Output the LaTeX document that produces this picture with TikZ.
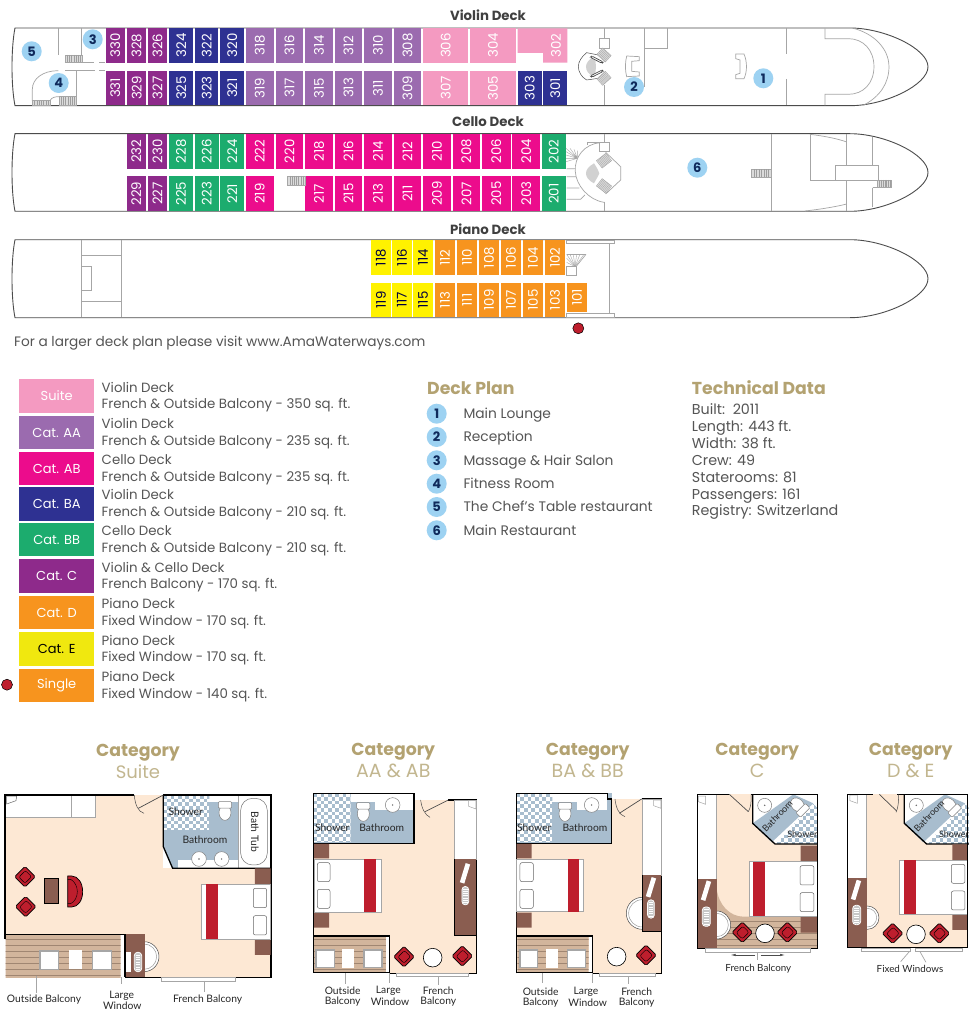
\documentclass[tikz,border=0pt]{standalone}
\usepackage{fontspec}
\usetikzlibrary{arrows.meta}
\setmainfont{Poppins}
\newfontfamily\labfont{Lato}
\definecolor{cC}{HTML}{8E2A8B}
\definecolor{cBA}{HTML}{2E3192}
\definecolor{cAA}{HTML}{9B6BAF}
\definecolor{cS}{HTML}{F49AC1}
\definecolor{cAB}{HTML}{EC0C8C}
\definecolor{cBB}{HTML}{1CAC6E}
\definecolor{cD}{HTML}{F7941E}
\definecolor{cE}{HTML}{FFF200}
\definecolor{cE2}{HTML}{F0E80F}
\definecolor{navy}{HTML}{0F2A5C}
\definecolor{bub}{HTML}{9DD2F2}
\definecolor{tan1}{HTML}{B3A271}
\definecolor{tan2}{HTML}{C2B68F}
\definecolor{txt}{HTML}{555555}
\definecolor{cream}{HTML}{FDE8D4}
\definecolor{bl}{HTML}{A8BDCE}
\definecolor{brn}{HTML}{8A5D50}
\definecolor{rd}{HTML}{BE1E2D}
\definecolor{wood}{HTML}{D2B59C}
\definecolor{woodl}{HTML}{A08672}
\definecolor{gln}{HTML}{A6A6A6}
\tikzset{
 hullline/.style={draw=black!70,line width=0.9pt},
 gl/.style={draw=gln,line width=0.7pt},
 wall/.style={draw=black,line width=1.3pt},
 cabtxt/.style={rotate=90,font=\fontsize{13.3}{13.3}\selectfont,inner sep=0pt},
 bubble/.style={circle,fill=bub,minimum size=20pt,inner sep=0pt,text=navy,font=\fontsize{13}{13}\selectfont\bfseries},
 bodytxt/.style={anchor=base west,text=txt,inner sep=0pt,font=\fontsize{13.35}{13.35}\selectfont},
 notetxt/.style={bodytxt,font=\fontsize{13.66}{13.66}\selectfont},
 plantxt/.style={bodytxt,font=\fontsize{13.8}{13.8}\selectfont},
 techtxt/.style={bodytxt,font=\fontsize{14.3}{14.3}\selectfont},
 head/.style={text=tan1,inner sep=0pt,font=\fontsize{17.3}{17.3}\selectfont\bfseries},
 subhead/.style={text=tan2,inner sep=0pt,font=\fontsize{19}{19}\selectfont},
 decktitle/.style={text=black!75,inner sep=0pt,font=\fontsize{13.3}{13.3}\selectfont\bfseries},
 lab/.style={text=black!85,inner sep=0pt,font=\labfont\fontsize{10.3}{10.3}\selectfont},
 labn/.style={text=black!85,inner sep=0pt,font=\labfont\fontsize{9.8}{9.8}\selectfont},
 labs/.style={text=black!85,inner sep=0pt,font=\labfont\fontsize{9}{9}\selectfont},
 zoomed/.style={x=0.3333pt,y=-0.3333pt},
}
\newcommand\hullshape[3]{% top, bottom, tip-mid
 \draw[hullline] (15,#1) .. controls (11,#1+20) and (11,#2-20) .. (15,#2) -- (850,#2)
   .. controls (885,#2) and (928,#3+18) .. (928,#3) .. controls (928,#3-18) and (885,#1) .. (850,#1) -- cycle;}
\newcommand\cabin[6]{% name x1 x2 y1 y2 col
 \fill[#6] (#2,#4) rectangle (#3,#5);
 \node[cabtxt,text=white] (c#1) at ({(#2+#3)/2},{(#4+#5)/2}) {#1};}
\newcommand\cabinY[6]{%
 \fill[#6] (#2,#4) rectangle (#3,#5);
 \node[cabtxt,text=black!75!blue] (c#1) at ({(#2+#3)/2},{(#4+#5)/2}) {#1};}
\newcommand\stairs[5]{% cx cy w h rot
 \begin{scope}[shift={(#1,#2)},rotate=#5]
  \draw[draw=black!35,fill=black!14,line width=0.4pt] ({-#3/2},{-#4/2}) rectangle ({#3/2},{#4/2});
  \foreach \k in {-3,-2,...,3} {\draw[draw=black!38,line width=0.25pt] ({\k*#3/8},{-#4/2}) -- ({\k*#3/8},{#4/2});}
 \end{scope}}
\newcommand\redchair[2]{%
 \begin{scope}[shift={(#1,#2)},rotate=45]
  \draw[fill=rd,line width=0.7pt,rounded corners=1.5pt] (-22,-22) rectangle (22,22);
  \draw[line width=0.4pt,rounded corners=2pt] (-14,-12) -- (-14,14) -- (14,14) -- (14,-12) -- cycle;
 \end{scope}}
\newcommand\woodfloor[1]{%
 \begin{scope}
  \clip #1;
  \fill[wood] (-10,150) rectangle (1200,800);
  \foreach \yy in {560,578,...,740} {\draw[woodl,line width=0.5pt] (-10,\yy) -- (1200,\yy);}
 \end{scope}}
\newcommand\checker[5]{% x1 y1 x2 y2 (clip path)
 \begin{scope}
  \clip #5;
  \fill[white] (#1,#2) rectangle (#3,#4);
  \foreach \i in {0,...,21} {\foreach \j in {0,...,17} {
    \pgfmathtruncatemacro\pp{mod(\i+\j,2)}
    \ifnum\pp=0 \fill[bl] ({#1+\i*11},{#2+\j*11}) rectangle ++(11,11);\fi}}
 \end{scope}}
\newcommand\bedH[6]{% x1 y1 x2 y2 redx1 redx2
 \draw[gl,fill=white] (#1,#2) rectangle (#3,#4);
 \fill[rd] (#5,#2) rectangle (#6,#4);}
\newcommand\pillow[4]{\draw[draw=black!60,line width=0.5pt,fill=white,rounded corners=2pt] (#1,#2) rectangle (#3,#4);}
\newcommand\hatchoval[4]{% cx cy w h
 \draw[draw=white,line width=0.8pt,fill=black!22,rounded corners=3.2pt] ({#1-#3/2},{#2-#4/2}) rectangle ({#1+#3/2},{#2+#4/2});
 \foreach \k in {-3,...,3} {\draw[white,line width=0.4pt] ({#1-#3/3},{#2+\k*#4/8}) -- ({#1+#3/3},{#2+\k*#4/8});}}
\newcommand\tilted[2]{%
 \begin{scope}[shift={(#1,#2)},rotate=-17]\fill[white] (-7,-30) rectangle (7,30);\end{scope}}
\newcommand\stool[3]{%
 \draw[draw=black!70,line width=0.5pt,fill=white] (#1,#2) circle ({#3});
 \draw[draw=black!40,line width=0.5pt] (#1,#2) circle ({#3-7});}
\newcommand\toilet[3]{% cx cy rot
 \begin{scope}[shift={(#1,#2)},rotate=#3]
  \draw[draw=black!50,line width=0.5pt,fill=white] (0,8) ellipse (18 and 23);
  \draw[draw=black!50,line width=0.5pt,fill=white,rounded corners=1pt] (-20,-25) rectangle (20,-6);
 \end{scope}}
\newcommand\sinkc[3]{\draw[draw=black!50,line width=0.5pt,fill=white] (#1,#2) circle (#3);\fill[black!60] (#1,#2) circle (2.5);}
\newcommand\closeticon[2]{\draw[gl,line width=0.5pt,fill=white] (#1,#2) -- ++(22,0) -- ++(0,25) -- ++(-22,-8) -- cycle;}
\newcommand\diagbath{%
 \path[fill=white] (218,178) -- (412,178) -- (412,327) -- (285,327) -- (218,265) -- cycle;
 \fill[bl] (218,265) -- (340,178) -- (400,205) -- (275,322) -- cycle;
 \checker{280}{178}{412}{330}{(285,327) -- (412,327) -- (412,218) -- (400,207) -- cycle}
 \sinkc{254}{211}{21}
 \toilet{358}{215}{-135}
 \node[labs,rotate=46] at (292,243) {Bathroom};
 \node[labs] at (367,298) {Shower};
 \draw[wall] (218,178) -- (218,265) -- (285,327) -- (412,327);}
\begin{document}
\begin{tikzpicture}[x=1pt,y=-1pt]
\useasboundingbox (0,0) rectangle (976,1024);
\fill[white] (0,0) rectangle (976,1024);
%%% Titles
\node[decktitle] (t1) at (488,15) {Violin Deck};
\node[decktitle] (t2) at (488,122) {Cello Deck};
\node[decktitle] (t3) at (488,229) {Piano Deck};
%%% Hulls
\hullshape{28}{105.7}{66.8}
\hullshape{133.7}{211.3}{172.5}
\hullshape{239.7}{317.7}{278.7}
%%% Violin cabins
\foreach \n/\a/\b/\c in {330/105.7/125/cC,328/127/146.3/cC,326/148/167/cC,324/169/193.3/cBA,322/195/218.3/cBA,320/220/244.3/cBA,318/245.7/274/cAA,316/275.7/303.3/cAA,314/305/333/cAA,312/334.7/362.3/cAA,310/364/392/cAA,308/393.7/421.3/cAA,306/423/468.3/cS,304/470/516/cS} {\cabin{\n}{\a}{\b}{28.4}{62.7}{\c}}
\foreach \n/\a/\b/\c in {331/105.7/125/cC,329/127/146.3/cC,327/148/167/cC,325/169/193.3/cBA,323/195/218.3/cBA,321/220/244.3/cBA,319/245.7/274/cAA,317/275.7/303.3/cAA,315/305/333/cAA,313/334.7/362.3/cAA,311/364/392/cAA,309/393.7/421.3/cAA,307/423/468.3/cS,305/470/516/cS,303/517.7/541.7/cBA,301/543/567.3/cBA} {\cabin{\n}{\a}{\b}{70.7}{105.3}{\c}}
\fill[cS] (517.7,28.4) -- (567.3,28.4) -- (567.3,62.7) -- (543,62.7) -- (543,53) -- (517.7,53) -- cycle;
\node[cabtxt,text=white] (c302) at (556,45.5) {302};
%%% Cello cabins
\foreach \n/\a/\b/\c in {232/126.7/146/cC,230/148/167/cC,228/168.7/193.3/cBB,226/195/218.7/cBB,224/220/244.3/cBB,222/245.7/274/cAB,220/275.7/303.3/cAB,218/305/333/cAB,216/334.7/362.3/cAB,214/364/392/cAB,212/393.7/421.3/cAB,210/423/451/cAB,208/452.7/480/cAB,206/481.7/510.7/cAB,204/512/540.3/cAB,202/541.7/565.7/cBB} {\cabin{\n}{\a}{\b}{134.1}{168.7}{\c}}
\foreach \n/\a/\b/\c in {229/126.7/146/cC,227/148/167/cC,225/168.7/193.3/cBB,223/195/218.7/cBB,221/220/244.3/cBB,219/245.7/274/cAB,217/305/333/cAB,215/334.7/362.3/cAB,213/364/392/cAB,211/393.7/421.3/cAB,209/423/451/cAB,207/452.7/480/cAB,205/481.7/510.7/cAB,203/512/540.3/cAB,201/541.7/565.7/cBB} {\cabin{\n}{\a}{\b}{176.3}{211}{\c}}
%%% Piano cabins
\foreach \n/\a/\b in {118/371/390.7,116/392/411.7,114/413/433.3} {\cabinY{\n}{\a}{\b}{240.1}{275}{cE}}
\foreach \n/\a/\b in {119/371/390.7,117/392/411.7,115/413/433.3} {\cabinY{\n}{\a}{\b}{282.7}{317.3}{cE}}
\foreach \n/\a/\b in {112/435/455,110/457/477,108/479/499,106/501/521,104/523/543,102/545/565} {\cabin{\n}{\a}{\b}{240.1}{275}{cD}}
\foreach \n/\a/\b in {113/435/455,111/457/477,109/479/499,107/501/521,105/523/543,103/545/565} {\cabin{\n}{\a}{\b}{282.7}{317.3}{cD}}
\cabin{101}{567}{587}{282.7}{312.3}{cD}
%%% Violin interior left
\begin{scope}[zoomed]
 \draw[gl] (174,85) -- (174,165);
 \draw[gl] (245,85) -- (245,165);
 \stairs{221}{176}{50}{23}{0}
 \draw[gl] (195,187) -- (282,187) (298,187) -- (316,187) (195,212) -- (285,212) (298,212) -- (316,212);
 \draw[gl] (175,212) .. controls (130,212) and (97,235) .. (97,268) -- (97,302);
 \stairs{124}{309}{54}{14}{0}
 \stairs{203}{303}{50}{26}{0}
 \draw[gl] (150,302) .. controls (155,292) and (165,290) .. (178,290);
 \draw[gl] (228,212) -- (228,290);
\end{scope}
%%% Violin interior right
\begin{scope}[shift={(490,0)},zoomed]
 \draw[gl] (342,85) -- (342,115) (342,255) -- (342,316);
 \draw[gl] (327,115) rectangle (358,145);
 \draw[gl] (462,85) -- (462,260) (462,145) -- (532,145) -- (532,85);
 \draw[gl] (410,168) -- (448,170) -- (448,182) -- (425,184) -- (425,214) -- (448,216) -- (448,228) -- (410,230) .. controls (405,210) and (405,190) .. (410,168);
 \draw[gl] (737,162) -- (762,162) .. controls (772,185) and (772,215) .. (762,236) -- (737,236) -- (737,224) -- (750,220) -- (750,180) -- (737,176) -- cycle;
 \draw[gl] (889,85) -- (889,162) (889,237) -- (889,316);
 \draw[gl] (1005,85) -- (1005,116) -- (1075,116) .. controls (1120,116) and (1152,150) .. (1152,200) .. controls (1152,250) and (1120,283) .. (1075,283) -- (1005,283) -- (1005,316);
 \draw[gl] (1090,85) .. controls (1150,100) and (1197,145) .. (1197,200) .. controls (1197,250) and (1170,290) .. (1120,316);
 \draw[draw=black!70,line width=0.5pt] (325,165) -- (290,158) .. controls (275,170) and (265,185) .. (265,200) .. controls (265,215) and (275,232) .. (290,240) -- (325,235);
 \fill[black!18] (312,168) .. controls (295,180) and (288,190) .. (288,200) .. controls (288,212) and (295,222) .. (312,232) .. controls (320,210) and (320,190) .. (312,168);
 \stairs{342}{165}{34}{26}{-42}
 \stairs{342}{235}{34}{26}{42}
 \draw[draw=black!70,line width=0.7pt,fill=white,rounded corners=1.5pt] (305,168) -- (340,186) -- (336,190) -- (301,172) -- cycle;
 \draw[draw=black!70,line width=0.7pt,fill=white,rounded corners=1.5pt] (305,232) -- (340,214) -- (336,210) -- (301,228) -- cycle;
\end{scope}
%%% Cello interior
\stairs{296.3}{180.5}{17.4}{9}{0}
\begin{scope}[shift={(490,120)},zoomed]
 \draw[gl] (342,43) -- (342,68) (342,245) -- (342,273);
 \draw[gl] (327,67) rectangle (358,95);
 \draw[gl] (327,68) -- (292,68) -- (292,75);
 \draw[gl] (330,68) .. controls (285,72) and (252,110) .. (256,155) .. controls (258,195) and (295,240) .. (342,247);
 \draw[gl,line width=0.4pt] (228,85) -- (262,115) (228,95) -- (262,115) (228,105) -- (262,115) (228,115) -- (262,115) (228,125) -- (262,115) (240,85) -- (262,115) (252,88) -- (262,115) (262,92) -- (262,115);
 \draw[gl] (230,146) -- (256,146) (230,170) -- (258,170) (230,204) -- (268,204) (230,238) -- (272,238) -- (285,225);
 \draw[gl] (347,97) -- (392,140) -- (392,180) -- (347,222);
 \stairs{342}{122}{36}{28}{38}
 \stairs{342}{198}{36}{28}{-38}
 \fill[black!18] (312,130) .. controls (295,140) and (288,150) .. (288,160) .. controls (288,170) and (295,182) .. (312,190) .. controls (320,175) and (325,168) .. (328,160) .. controls (325,150) and (320,142) .. (312,130);
 \stairs{814}{160}{58}{25}{0}
 \draw[gl] (843,43) -- (843,273);
 \draw[gl] (960,43) -- (960,181) -- (1165,181) -- (1165,136) -- (1037,136) -- (1037,181);
 \draw[gl] (960,43) .. controls (1000,48) and (1040,55) .. (1070,66);
 \draw[gl] (945,273) .. controls (990,268) and (1040,260) .. (1070,252);
 \draw[gl] (1070,43) -- (1070,136) (1070,181) -- (1070,273);
 \draw[gl] (1148,50) -- (1148,136) (1148,203) -- (1148,262) (1148,203) -- (1165,203);
 \stairs{1184}{191}{42}{23}{0}
\end{scope}
%%% Piano interior
\begin{scope}[shift={(0,225)},zoomed]
 \draw[gl] (244,46) -- (244,276) (364,46) -- (364,276);
 \draw[gl] (244,90) -- (364,90) (244,230) -- (364,230);
 \draw[gl] (244,124) rectangle (274,197);
\end{scope}
\begin{scope}[shift={(360,225)},zoomed]
 \draw[gl] (748,57) -- (748,265);
 \draw[gl] (618,46) rectangle (762,56);
 \draw[gl] (618,266) rectangle (762,277);
 \draw[gl] (620,125) rectangle (648,150);
 \draw[gl] (620,88) -- (678,88);
 \foreach \xx/\yy in {620/88,630/88,640/88,650/88,660/88,672/88,620/100,620/112} {\draw[gl,line width=0.4pt] (\xx,\yy) -- (645,125);}
 \draw[gl] (678,88) -- (648,125);
\end{scope}
\node[circle,fill=rd,draw=black,line width=0.5pt,minimum size=11pt,inner sep=0pt] (dot1) at (578.3,328.3) {};
%%% Bubbles on decks
\node[bubble] (b1) at (763.3,78.3) {1};
\node[bubble] (b2) at (634,87) {2};
\node[bubble] (b3) at (92.7,39.3) {3};
\node[bubble] (b4) at (58.7,83) {4};
\node[bubble] (b5) at (31.7,51.3) {5};
\node[bubble] (b6) at (697.3,167.7) {6};
\node[notetxt] (note) at (14,346.5) {For a larger deck plan please visit www.AmaWaterways.com};
%%% Legend
\foreach \i/\ya/\yb/\c/\tc/\s/\la/\lb in {
 1/379.3/412.7/cS/white/Suite/Violin Deck/French \& Outside Balcony - 350 sq. ft.,
 2/416/449/cAA/white/Cat. AA/Violin Deck/French \& Outside Balcony - 235 sq. ft.,
 3/452/485.3/cAB/white/Cat. AB/Cello Deck/French \& Outside Balcony - 235 sq. ft.,
 4/487/520.7/cBA/white/Cat. BA/Violin Deck/French \& Outside Balcony - 210 sq. ft.,
 5/523/556.3/cBB/white/Cat. BB/Cello Deck/French \& Outside Balcony - 210 sq. ft.,
 6/559.3/593/cC/white/Cat. C/Violin \& Cello Deck/French Balcony - 170 sq. ft.,
 7/596/629.3/cD/white/Cat. D/Piano Deck/Fixed Window - 170 sq. ft.,
 8/632.3/665.7/cE2/black/Cat. E/Piano Deck/Fixed Window - 170 sq. ft.,
 9/668.7/702/cD/white/Single/Piano Deck/Fixed Window - 140 sq. ft.}{
 \fill[\c] (19,\ya) rectangle (94.3,\yb);
 \node[text=\tc,inner sep=0pt,font=\fontsize{13}{13}\selectfont] (sw\i) at (56.7,{(\ya+\yb)/2}) {\s};
 \node[bodytxt] (la\i) at (101.5,{(\ya+\yb)/2-4}) {\la};
 \node[bodytxt] (lb\i) at (101.5,{(\ya+\yb)/2+12.7}) {\lb};
}
\node[circle,fill=rd,draw=black,line width=0.5pt,minimum size=11pt,inner sep=0pt] (dot2) at (7,684.7) {};
%%% Deck plan list
\node[head,anchor=west] (dp) at (427,388) {Deck Plan};
\foreach \i/\yy/\t in {1/413.7/Main Lounge,2/437/Reception,3/460.3/Massage \& Hair Salon,4/483.7/Fitness Room,5/507/The Chef's Table restaurant,6/530.3/Main Restaurant}{
 \node[bubble] (dpb\i) at (436.7,\yy) {\i};
 \node[plantxt] (dpt\i) at (463.3,\yy+4.8) {\t};
}
\node[head,anchor=west] (td) at (691.7,388) {Technical Data};
\foreach \i/\yy/\t in {1/410/Built:\ \ 2011,2/427/Length: 443 ft.,3/443.7/Width: 38 ft.,4/460.7/Crew: 49,5/477.3/Staterooms: 81,6/494.3/Passengers: 161,7/511/Registry: Switzerland}{
 \node[techtxt] (tdt\i) at (691.7,\yy+4.8) {\t};
}
%%% Category headings
\node[head] (h1) at (138,753) {Category};
\node[subhead,font=\fontsize{18}{18}\selectfont] (s1) at (138,771.7) {Suite};
\node[head] (h2) at (393.3,752) {Category};
\node[subhead] (s2) at (393.3,770.7) {AA \& AB};
\node[head] (h3) at (587.7,752) {Category};
\node[subhead] (s3) at (587.7,770.7) {BA \& BB};
\node[head] (h4) at (757.3,752) {Category};
\node[subhead] (s4) at (757.3,770.7) {C};
\node[head] (h5) at (910.7,752) {Category};
\node[subhead] (s5) at (910.7,770.7) {D \& E};
%%% SUITE
\begin{scope}[shift={(0,735)},zoomed]
 \fill[cream] (15,180) rectangle (813,727);
 \fill[white] (15,600) rectangle (375,730);
 \woodfloor{(17,600) rectangle (362,727)}
 \draw[gl,fill=white] (15,180) rectangle (287,248);
 \draw[gl] (214,180) -- (214,248);
 \draw[draw=black!60,line width=0.5pt] (20,183) -- (50,183) -- (48,197) -- (20,207) -- cycle;
 \fill[white] (490,180) rectangle (813,400);
 \fill[bl] (490,180) -- (715,180) -- (715,400) -- (518,400) -- (490,335) -- cycle;
 \fill[white] (628,180) rectangle (715,200);
 \checker{490}{180}{628}{285}{(490,180) rectangle (628,285)}
 \toilet{675}{225}{0}
 \fill[white] (535,375) rectangle (715,400);
 \sinkc{597}{372}{22}
 \sinkc{665}{372}{22}
 \draw[draw=black!55,line width=0.5pt,fill=white,rounded corners=12pt] (722,190) rectangle (802,390);
 \node[lab,rotate=-90] at (765,290) {Bath Tub};
 \node[lab] at (557,230) {Shower};
 \node[lab] at (615,315) {Bathroom};
 \draw[gl] (715,180) -- (715,400);
 \draw[wall] (490,180) -- (490,335) -- (518,400) -- (813,400);
 \draw[wall] (403,180) -- (15,180) -- (15,612);
 \draw[wall] (490,180) -- (813,180) -- (813,727) -- (375,727);
 \draw[wall] (15,598) -- (435,598);
 \fill[brn] (765,400) rectangle (812,447) (765,613) rectangle (812,660);
 \bedH{605}{447}{812}{613}{617}{653}
 \pillow{760}{460}{800}{518}
 \pillow{760}{542}{800}{600}
 \draw[black!70,line width=0.5pt] (403,180) .. controls (405,210) and (415,230) .. (432,235);
 \draw[black!70,line width=0.7pt] (415,220) -- (490,180);
 \redchair{75}{425}
 \redchair{77}{515}
 \draw[black,line width=0.5pt,fill=brn] (132,430) rectangle (175,506);
 \draw[line width=0.7pt,fill=rd] (203,423) -- (215,423) .. controls (235,423) and (248,445) .. (248,470) .. controls (248,495) and (235,516) .. (215,516) -- (203,516) -- cycle;
 \draw[line width=0.4pt] (203,433) -- (212,433) .. controls (225,440) and (232,455) .. (232,470) .. controls (232,485) and (225,500) .. (212,506) -- (203,506);
 \fill[white] (362,600) rectangle (373,727);
 \draw[gl] (373,600) -- (373,727);
 \draw[gl,line width=1.2pt,fill=white] (120,648) rectangle (176,703);
 \fill[white] (208,645) rectangle (245,703);
 \draw[gl,line width=1.2pt,fill=white] (278,648) rectangle (335,703);
 \stool{432}{665}{45}
 \fill[brn] (375,598) rectangle (435,725);
 \fill[white] (377,652) rectangle (392,710);
 \hatchoval{414}{681}{22}{58}
 \draw[wall] (375,598) -- (375,727);
 \draw[gl,fill=white] (485,727) rectangle (707,738);
 \draw[gl] (110,722) -- (110,775) (365,727) -- (365,748) (613,738) -- (613,770);
 \node[lab] at (132,795) {Outside Balcony};
 \node[lab] at (365,781) {Large};
 \node[lab] at (367,813) {Window};
 \node[lab] at (623,795) {French Balcony};
\end{scope}
%%% AA AB & BA BB
\begin{scope}[shift={(300,735)},zoomed]
 % AA AB
 \fill[cream] (40,175) rectangle (530,715);
 \fill[white] (345,175) rectangle (535,195);
 \fill[white] (40,700) rectangle (268,720);
 \woodfloor{(42,605) rectangle (258,712)}
 \fill[bl] (40,175) rectangle (342,325);
 \fill[white] (152,175) rectangle (342,200);
 \fill[white] (225,175) rectangle (342,225);
 \checker{40}{175}{152}{322}{(40,175) rectangle (152,322)}
 \toilet{190}{228}{0}
 \sinkc{278}{210}{22}
 \node[lab] at (97,279) {Shower};
 \node[lab] at (245,279) {Bathroom};
 \draw[wall] (40,325) -- (342,325) -- (342,175) -- (40,175) -- (40,715);
 \draw[wall] (445,195) -- (530,195) -- (530,715) -- (268,715) -- (268,603) -- (40,603);
 \draw[wall] (40,713) -- (268,713);
 \draw[black!70,line width=0.5pt] (362,195) .. controls (365,220) and (375,240) .. (390,247);
 \draw[black!70,line width=0.7pt] (375,230) -- (445,195);
 \draw[gl,fill=white] (462,195) rectangle (530,372);
 \closeticon{506}{197}
 \fill[brn] (462,372) rectangle (528,602);
 \draw[black,line width=0.6pt] (462,372) -- (462,602) -- (528,602);
 \tilted{495}{415}
 \hatchoval{496}{482}{20}{55}
 \fill[brn] (42,327) rectangle (87,370) (42,533) rectangle (87,578);
 \bedH{42}{372}{243}{532}{193}{229}
 \pillow{52}{383}{90}{440}
 \pillow{52}{463}{90}{520}
 \fill[white] (258,605) rectangle (267,712);
 \draw[gl,line width=1.2pt,fill=white] (48,645) rectangle (103,698);
 \fill[white] (127,642) rectangle (162,698);
 \draw[gl,line width=1.2pt,fill=white] (192,645) rectangle (246,698);
 \redchair{312}{665}
 \redchair{487}{663}
 \draw[black,line width=0.6pt,fill=white] (398,668) circle (28);
 \draw[gl,fill=white] (290,715) rectangle (505,725);
 \draw[gl] (135,715) -- (135,748) (267,715) -- (267,745) (415,725) -- (415,750);
 \node[lab] at (128,767) {Outside};
 \node[lab] at (128,800) {Balcony};
 \node[lab] at (265,767) {Large};
 \node[lab] at (270,800) {Window};
 \node[lab] at (415,767) {French};
 \node[lab] at (415,800) {Balcony};
 % BA BB
 \fill[cream] (650,175) rectangle (1085,715);
 \fill[white] (935,175) rectangle (1090,192);
 \fill[white] (650,700) rectangle (878,720);
 \woodfloor{(652,605) rectangle (866,712)}
 \fill[bl] (650,175) rectangle (935,325);
 \fill[white] (757,175) rectangle (922,200);
 \fill[white] (830,175) rectangle (922,225);
 \checker{650}{175}{757}{322}{(650,175) rectangle (757,322)}
 \toilet{795}{228}{0}
 \sinkc{875}{210}{22}
 \node[lab] at (703,279) {Shower};
 \node[lab] at (855,279) {Bathroom};
 \draw[wall] (650,715) -- (650,175) -- (922,175) -- (922,192) -- (935,192) -- (935,325) -- (650,325);
 \draw[wall] (1025,192) -- (1085,192) -- (1085,715) -- (878,715) -- (878,603) -- (650,603);
 \draw[wall] (650,713) -- (878,713);
 \draw[black!70,line width=0.5pt] (945,192) .. controls (948,220) and (958,240) .. (975,245);
 \draw[black!70,line width=0.7pt] (958,235) -- (1025,192);
 \draw[gl,fill=white] (1027,192) rectangle (1085,420);
 \closeticon{1061}{195}
 \stool{1027}{535}{48}
 \fill[brn] (1027,420) rectangle (1082,588);
 \draw[black,line width=0.6pt] (1027,420) -- (1027,588) -- (1082,588);
 \tilted{1053}{457}
 \hatchoval{1053}{522}{20}{55}
 \fill[brn] (650,327) rectangle (695,370) (650,533) rectangle (695,578);
 \bedH{650}{372}{851}{530}{803}{838}
 \pillow{660}{383}{700}{440}
 \pillow{660}{463}{700}{520}
 \fill[white] (866,605) rectangle (877,712);
 \draw[gl,line width=1.2pt,fill=white] (660,645) rectangle (713,698);
 \fill[white] (738,642) rectangle (773,698);
 \draw[gl,line width=1.2pt,fill=white] (802,645) rectangle (856,698);
 \draw[black,line width=0.6pt,fill=white] (950,665) circle (28);
 \redchair{1038}{661}
 \draw[gl,fill=white] (898,715) rectangle (1065,725);
 \draw[gl] (728,715) -- (728,745) (878,715) -- (878,745) (985,725) -- (985,748);
 \node[lab] at (722,769) {Outside};
 \node[lab] at (722,802) {Balcony};
 \node[lab] at (858,769) {Large};
 \node[lab] at (863,802) {Window};
 \node[lab] at (1010,769) {French};
 \node[lab] at (1010,802) {Balcony};
\end{scope}
%%% C and D&E
\begin{scope}[shift={(680,735)},zoomed]
 % C
 \fill[cream] (110,178) rectangle (412,640);
 \woodfloor{(110,460) .. controls (115,510) and (150,545) .. (190,545) -- (412,545) -- (412,640) -- (110,640) -- cycle}
 \diagbath
 \fill[brn] (362,332) rectangle (412,380) (362,545) rectangle (412,593);
 \bedH{207}{380}{412}{543}{219}{256}
 \pillow{360}{392}{402}{450}
 \pillow{360}{473}{402}{530}
 \draw[gl,fill=white] (52,178) rectangle (110,432);
 \closeticon{55}{183}
 \stool{110}{570}{42}
 \fill[brn] (52,432) rectangle (110,640);
 \tilted{78}{467}
 \hatchoval{79}{545}{24}{58}
 \redchair{187}{592}
 \redchair{322}{592}
 \draw[black,line width=0.6pt,fill=white] (255,595) circle (28);
 \draw[wall] (148,178) -- (52,178) -- (52,640) -- (412,640) -- (412,178) -- (213,178);
 \draw[black!70,line width=0.7pt] (148,178) -- (205,230);
 \draw[black!70,line width=0.5pt] (213,178) .. controls (215,200) and (212,218) .. (205,230);
 \draw[gl,fill=white] (77,640) rectangle (392,652);
 \draw[gl] (233,652) -- (233,675);
 \draw[black!70,line width=0.6pt,-{Latex[length=5pt,width=2.5pt]}] (225,660) -- (152,660);
 \draw[black!70,line width=0.6pt,-{Latex[length=5pt,width=2.5pt]}] (242,660) -- (315,660);
 \node[labn] at (235,700) {French Balcony};
 % D&E
 \fill[cream] (503,178) rectangle (863,637);
 \begin{scope}[shift={(455,0)}]\diagbath\end{scope}
 \fill[brn] (817,328) rectangle (863,375) (817,538) rectangle (863,585);
 \bedH{659}{375}{863}{538}{672}{708}
 \pillow{814}{388}{855}{445}
 \pillow{814}{468}{855}{525}
 \draw[gl,fill=white] (503,178) rectangle (560,430);
 \closeticon{510}{180}
 \stool{562}{548}{35}
 \fill[brn] (503,430) rectangle (560,637);
 \tilted{528}{465}
 \hatchoval{530}{540}{24}{58}
 \redchair{638}{595}
 \redchair{778}{595}
 \draw[black,line width=0.6pt,fill=white] (708,598) circle (28);
 \draw[wall] (578,178) -- (503,178) -- (503,637) -- (863,637) -- (863,178) -- (652,178);
 \draw[black!70,line width=0.7pt] (598,178) -- (650,228);
 \draw[black!70,line width=0.5pt] (655,178) .. controls (657,200) and (654,220) .. (648,232);
 \draw[gl,fill=white] (545,640) rectangle (690,650);
 \draw[gl,fill=white] (707,640) rectangle (848,650);
 \draw[gl] (688,650) -- (662,680) (720,650) -- (738,682);
 \node[labn] at (690,702) {Fixed Windows};
\end{scope}
\end{tikzpicture}
\end{document}
